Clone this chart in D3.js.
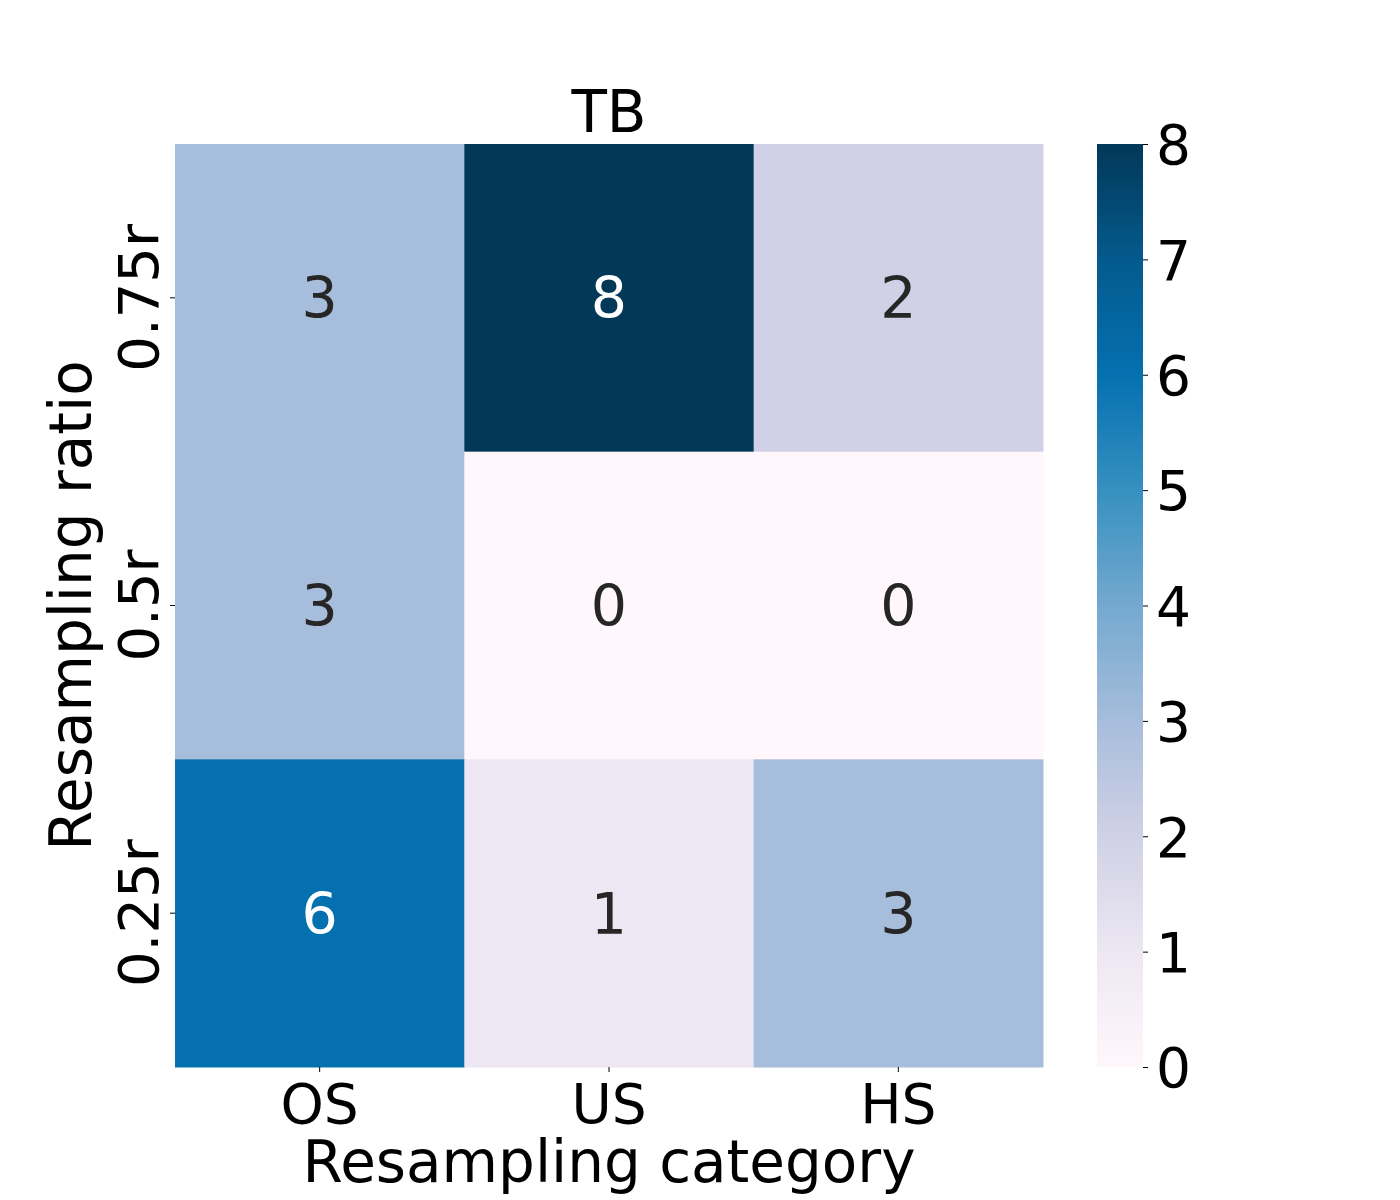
<!DOCTYPE html>
<html><head><meta charset="utf-8">
<script src="https://cdn.jsdelivr.net/npm/d3@7"></script>
<style>body{margin:0;background:#fff}text{font-family:"DejaVu Sans",sans-serif}</style>
</head><body>
<svg id="c" width="1400" height="1200"></svg>
<script>
const title = "TB";
const xCategories = ["OS", "US", "HS"];
const yCategories = ["0.75r", "0.5r", "0.25r"];
const values = [
  [3, 8, 2],
  [3, 0, 0],
  [6, 1, 3]
];
const colorTicks = [0, 1, 2, 3, 4, 5, 6, 7, 8];
const xLabel = "Resampling category";
const yLabel = "Resampling ratio";

const svg = d3.select("#c");
const L = 175, R = 1043, T = 144, B = 1067;
const x = d3.scaleBand().domain(xCategories).range([L, R]);
const y = d3.scaleBand().domain(yCategories).range([T, B]);
const pal = d3.schemePuBu[9];
const vmin = 0, vmax = 8;
const color = d3.scaleLinear().domain(d3.range(9).map(i => vmin + (vmax - vmin) * i / 8)).range(pal).clamp(true);

const cells = [];
values.forEach((row, i) => row.forEach((v, j) => cells.push({r: yCategories[i], c: xCategories[j], v})));

svg.append("g").selectAll("rect").data(cells).join("rect")
  .attr("x", d => x(d.c)).attr("y", d => y(d.r))
  .attr("width", x.bandwidth() + 0.5).attr("height", y.bandwidth() + 0.5)
  .attr("fill", d => color(d.v));

function lum(c) {
  const rgb = d3.rgb(c);
  const f = v => { v /= 255; return v <= 0.03928 ? v / 12.92 : Math.pow((v + 0.055) / 1.055, 2.4); };
  return 0.2126 * f(rgb.r) + 0.7152 * f(rgb.g) + 0.0722 * f(rgb.b);
}
svg.append("g").selectAll("text").data(cells).join("text")
  .attr("x", d => x(d.c) + x.bandwidth() / 2)
  .attr("y", d => y(d.r) + y.bandwidth() / 2)
  .attr("text-anchor", "middle").attr("dy", "0.36em")
  .attr("font-size", 57)
  .attr("fill", d => lum(color(d.v)) > 0.408 ? "#262626" : "#ffffff")
  .text(d => d.v);

// x axis
const xa = svg.append("g").attr("transform", `translate(0,${B})`)
  .call(d3.axisBottom(x).tickSize(5).tickPadding(10));
xa.select(".domain").remove();
xa.selectAll("text").attr("font-size", 55).attr("fill", "#000").attr("font-family", "DejaVu Sans").attr("dy", "0.74em");
xa.selectAll("line").attr("stroke", "#000");

// y axis
const ya = svg.append("g").attr("transform", `translate(${L},0)`)
  .call(d3.axisLeft(y).tickSize(5).tickPadding(10));
ya.select(".domain").remove();
ya.selectAll("line").attr("stroke", "#000");
ya.selectAll("text").remove();
svg.append("g").selectAll("text").data(yCategories).join("text")
  .attr("transform", d => `translate(158,${y(d) + y.bandwidth() / 2}) rotate(-90)`)
  .attr("text-anchor", "middle").attr("font-size", 56).attr("fill", "#000")
  .text(d => d);

// axis labels
svg.append("text").attr("x", (L + R) / 2).attr("y", 1182).attr("text-anchor", "middle")
  .attr("font-size", 58).attr("fill", "#000").text(xLabel);
svg.append("text").attr("transform", `translate(91,${(T + B) / 2}) rotate(-90)`).attr("text-anchor", "middle")
  .attr("font-size", 58).attr("fill", "#000").text(yLabel);

// title
svg.append("text").attr("x", (L + R) / 2).attr("y", 132).attr("text-anchor", "middle")
  .attr("font-size", 58).attr("fill", "#000").text(title);

// colorbar
const CL = 1097, CW = 46;
const cy = d3.scaleLinear().domain([vmin, vmax]).range([B, T]);
const defs = svg.append("defs");
const grad = defs.append("linearGradient").attr("id", "cb").attr("x1", 0).attr("y1", 1).attr("x2", 0).attr("y2", 0);
grad.selectAll("stop").data(pal).join("stop")
  .attr("offset", (d, i) => i / 8).attr("stop-color", d => d);
svg.append("rect").attr("x", CL).attr("y", T).attr("width", CW).attr("height", B - T).attr("fill", "url(#cb)");
const ca = svg.append("g").attr("transform", `translate(${CL + CW},0)`)
  .call(d3.axisRight(cy).tickValues(colorTicks).tickFormat(d3.format("d")).tickSize(5).tickPadding(8));
ca.select(".domain").remove();
ca.selectAll("line").attr("stroke", "#000");
ca.selectAll("text").attr("font-size", 55).attr("fill", "#000").attr("font-family", "DejaVu Sans").attr("dy", "0.36em");
</script>
</body></html>
